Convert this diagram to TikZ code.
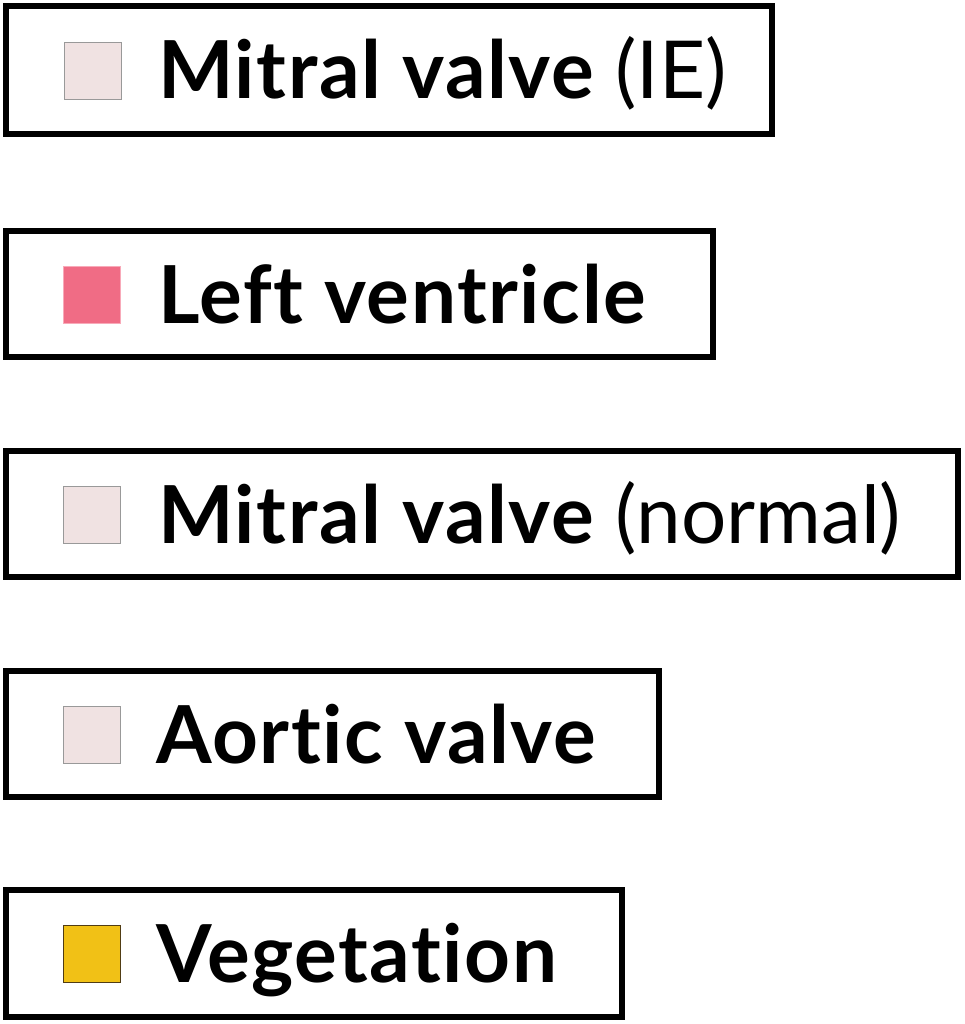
\documentclass[tikz,border=0pt]{standalone}
\usepackage{fontspec}
\setmainfont{Lato}[Ligatures=NoCommon,BoldFeatures={LetterSpace=2.0,Ligatures=NoCommon}]
\begin{document}
\begin{tikzpicture}[x=1pt,y=-1pt,
  legbox/.style={draw=black,line width=6pt,fill=white},
  swatch/.style={minimum width=57pt,minimum height=57pt,inner sep=0pt,line width=0.8pt,anchor=north west},
  lab/.style={anchor=base west,inner sep=0pt,font=\fontsize{80}{90}\selectfont}]
\useasboundingbox (0,0) rectangle (964,1024);
% box 1
\draw[legbox] (6,6) rectangle (772,134);
\node[swatch,draw=gray!80,fill={rgb,255:red,240;green,226;blue,226}] (s1) at (64,42) {};
\node[lab] (t1) at (158,99) {\textbf{Mitral valve}\hspace{20pt}(IE)};
% box 2
\draw[legbox] (6,231) rectangle (713,357);
\node[swatch,draw={rgb,255:red,248;green,170;blue,185},fill={rgb,255:red,240;green,108;blue,133}] (s2) at (63,266) {};
\node[lab] (t2) at (158,323) {\textbf{Left ventricle}};
% box 3
\draw[legbox] (6,451) rectangle (958,577);
\node[swatch,draw=gray!80,fill={rgb,255:red,240;green,226;blue,226}] (s3) at (63,486) {};
\node[lab] (t3) at (158,543) {\textbf{Mitral valve}\hspace{20pt}(normal)};
% box 4
\draw[legbox] (6,671) rectangle (659,797);
\node[swatch,draw=gray!80,fill={rgb,255:red,240;green,226;blue,226}] (s4) at (63,706) {};
\node[lab] (t4) at (156,763) {\textbf{Aortic valve}};
% box 5
\draw[legbox] (6,890) rectangle (622,1017);
\node[swatch,draw={rgb,255:red,80;green,60;blue,20},fill={rgb,255:red,241;green,193;blue,22}] (s5) at (63,925) {};
\node[lab] (t5) at (156,982) {\textbf{Vegetation}};
\end{tikzpicture}
\end{document}
